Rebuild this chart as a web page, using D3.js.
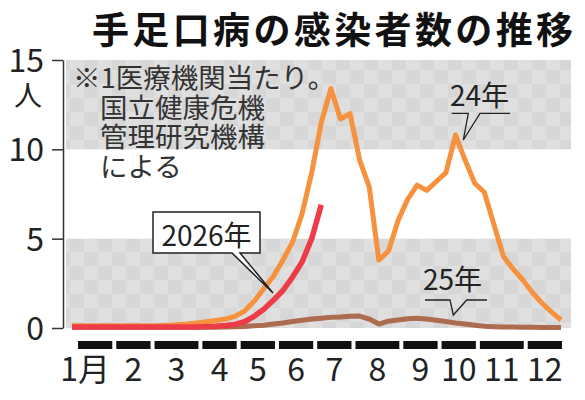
<!DOCTYPE html>
<html>
<head>
<meta charset="utf-8">
<title>手足口病の感染者数の推移</title>
<script src="https://d3js.org/d3.v7.min.js"></script>
<style>
    body { margin: 0; background: #fff; }
    svg { display: block; font-family: "Noto Sans CJK JP", sans-serif; }
    .axis path, .axis line { stroke: #333; stroke-width: 1.5; }
    .axis text { font-size: 32px; fill: #222; font-family: "Noto Sans CJK JP", sans-serif; }
    .note { font-size: 27.5px; fill: #333; }
    .series { fill: none; stroke-linejoin: round; stroke-linecap: butt; }
</style>
</head>
<body>
<div id="chart"></div>
<script>
// weekly cases per sentinel site (week index 0 = first week of January)
var cases2024 = [0.12, 0.12, 0.12, 0.12, 0.12, 0.12, 0.12, 0.12, 0.12, 0.13,
                 0.15, 0.18, 0.22, 0.28, 0.35, 0.42, 0.5, 0.65, 0.95, 1.5,
                 2.2, 2.9, 3.8, 4.8, 6.4, 8.7, 11.5, 13.4, 11.7, 12.0,
                 9.4, 7.9, 3.8, 4.3, 6.0, 7.2, 8.0, 7.7, 8.2, 8.7,
                 10.8, 9.4, 8.1, 7.6, 5.8, 4.0, 3.3, 2.7, 2.0, 1.4,
                 0.9, 0.45];
var cases2025 = [0.04, 0.04, 0.04, 0.04, 0.04, 0.04, 0.04, 0.04, 0.04, 0.04,
                 0.04, 0.04, 0.04, 0.04, 0.04, 0.04, 0.05, 0.07, 0.09, 0.12,
                 0.16, 0.22, 0.28, 0.36, 0.43, 0.5, 0.55, 0.6, 0.62, 0.66,
                 0.67, 0.5, 0.22, 0.38, 0.45, 0.52, 0.54, 0.5, 0.43, 0.36,
                 0.28, 0.22, 0.16, 0.1, 0.07, 0.05, 0.05, 0.04, 0.04, 0.03,
                 0.03, 0.03];
var cases2026 = [0.05, 0.05, 0.05, 0.05, 0.05, 0.05, 0.05, 0.05, 0.05, 0.05,
                 0.05, 0.05, 0.05, 0.06, 0.08, 0.1, 0.14, 0.2, 0.35, 0.65,
                 1.05, 1.55, 2.1, 2.85, 3.7, 5.0, 6.9];

var monthLabels = ["1月", "2", "3", "4", "5", "6", "7", "8", "9", "10", "11", "12"];
var monthWeeks = [4, 4, 5, 4, 4, 4, 4, 5, 4, 4, 5, 4];
var yTicks = [0, 5, 10, 15];
var shadedBands = [[0, 5], [10, 15]];

var noteLines = ["※1医療機関当たり。", "国立健康危機", "管理研究機構", "による"];

var width = 585, height = 400;

var svg = d3.select("#chart").append("svg")
    .attr("width", width)
    .attr("height", height);

var x = d3.scaleLinear().domain([0, 51]).range([72, 561]);
var y = d3.scaleLinear().domain([0, 15]).range([328, 60]);
var xMonth = d3.scaleLinear().domain([0, d3.sum(monthWeeks)]).range([78, 566]);

// soft checker pattern for the gray bands
var defs = svg.append("defs");
var pat = defs.append("pattern")
    .attr("id", "checker")
    .attr("patternUnits", "userSpaceOnUse")
    .attr("width", 28).attr("height", 28);
pat.append("rect").attr("width", 28).attr("height", 28).attr("fill", "#dfdfdf");
pat.append("rect").attr("width", 14).attr("height", 14).attr("fill", "#d7d7d7");
pat.append("rect").attr("x", 14).attr("y", 14).attr("width", 14).attr("height", 14).attr("fill", "#d7d7d7");

svg.selectAll(".band")
    .data(shadedBands)
    .enter().append("rect")
    .attr("class", "band")
    .attr("x", 66)
    .attr("width", 571 - 66)
    .attr("y", d => y(d[1]))
    .attr("height", d => y(d[0]) - y(d[1]))
    .attr("fill", "url(#checker)");

// Title
svg.append("text")
    .attr("x", 92)
    .attr("y", 44)
    .attr("textLength", 481)
    .attr("lengthAdjust", "spacing")
    .style("font-size", "37px")
    .style("font-weight", "700")
    .style("fill", "#111")
    .text("手足口病の感染者数の推移");

// series
var line = d3.line()
    .x((d, i) => x(i))
    .y(d => y(d));

var series = [
    { data: cases2025, color: "#ad6b4f", w: 5 },
    { data: cases2024, color: "#f6913d", w: 5 },
    { data: cases2026, color: "#ee3b48", w: 5.5 }
];

svg.selectAll(".series")
    .data(series)
    .enter().append("path")
    .attr("class", "series")
    .attr("d", d => line(d.data))
    .attr("stroke", d => d.color)
    .attr("stroke-width", d => d.w);

// Y axis
var yAxis = svg.append("g")
    .attr("class", "axis")
    .attr("transform", "translate(63,0)")
    .call(d3.axisLeft(y).tickValues(yTicks).tickSize(11).tickSizeOuter(0).tickPadding(8));
yAxis.selectAll("text").attr("dy", "0.36em");

svg.append("text")
    .attr("x", 28)
    .attr("y", 106)
    .attr("text-anchor", "middle")
    .style("font-size", "28px")
    .style("fill", "#222")
    .text("人");

// month bars and labels
var starts = [0];
monthWeeks.forEach((w, i) => starts.push(starts[i] + w));
var months = monthLabels.map((m, i) => ({ label: m, s: starts[i], e: starts[i + 1] }));

svg.selectAll(".mbar")
    .data(months)
    .enter().append("rect")
    .attr("class", "mbar")
    .attr("x", d => xMonth(d.s))
    .attr("width", d => xMonth(d.e) - xMonth(d.s) - 4)
    .attr("y", 341)
    .attr("height", 8)
    .attr("fill", "#111");

svg.selectAll(".mlabel")
    .data(months)
    .enter().append("text")
    .attr("class", "mlabel")
    .attr("x", (d, i) => (xMonth(d.s) + xMonth(d.e) - 4) / 2 + (i === 0 ? -10 : 0))
    .attr("y", 381)
    .attr("text-anchor", "middle")
    .style("font-size", "32px")
    .style("fill", "#222")
    .text(d => d.label);

// note (one text block, one line per tspan)
svg.append("text")
    .attr("class", "note")
    .selectAll("tspan")
    .data(noteLines)
    .enter().append("tspan")
    .attr("x", (d, i) => i === 0 ? 73 : 100)
    .attr("y", (d, i) => 88 + i * 29.5)
    .text(d => d);

// callouts
var ann = svg.append("g").attr("fill", "none").attr("stroke", "#222").attr("stroke-width", 1.3);

ann.append("path").attr("d", "M451.7,113.3H468.3L463.3,140L480,113.3H510");
svg.append("text").attr("x", 450).attr("y", 106)
    .style("font-size", "28px").style("fill", "#222").text("24年");

ann.append("path").attr("d", "M425,300H450L453.3,315L466.7,300H487");
svg.append("text").attr("x", 423).attr("y", 290)
    .style("font-size", "28px").style("fill", "#222").text("25年");

svg.append("path")
    .attr("d", "M153,212H260V253H240L273,293L232,253H153Z")
    .attr("fill", "#fff")
    .attr("stroke", "#222")
    .attr("stroke-width", 1.5)
    .attr("stroke-linejoin", "miter");
svg.append("text").attr("x", 206.5).attr("y", 246)
    .attr("text-anchor", "middle")
    .style("font-size", "28px").style("fill", "#222").text("2026年");
</script>
</body>
</html>
